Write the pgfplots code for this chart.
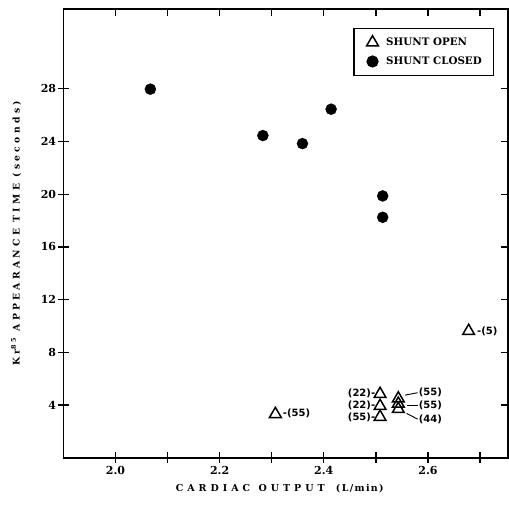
\documentclass[border=0pt]{standalone}
\usepackage{fontspec}
\setmainfont{DejaVu Serif}
\newfontfamily\spacedfont[LetterSpace=36]{DejaVu Serif}
\newfontfamily\xspacedfont[LetterSpace=42]{DejaVu Serif}
\newfontfamily\lsfont[LetterSpace=14]{DejaVu Serif}
\newfontfamily\labfont{DejaVu Sans}
\usepackage{pgfplots}
\pgfplotsset{compat=1.18}
\tikzset{lab/.style={font=\labfont\bfseries\fontsize{10}{12}\selectfont, inner sep=0pt}}
\pgfplotsset{mylegimg/.style={legend image code/.code={\path[draw=none,fill=none] (-8.5pt,-7.5pt) rectangle (10pt,7.5pt);\draw[##1] plot coordinates {(0pt,0pt)};}}}
\begin{document}
\begin{tikzpicture}
\begin{axis}[
  scale only axis, width=444pt, height=448.5pt,
  xmin=1.9, xmax=2.753, ymin=0, ymax=34.05,
  xtick={2.0,2.1,2.2,2.3,2.4,2.5,2.6,2.7},
  xticklabels={2.0,,2.2,,2.4,,2.6,},
  ytick={4,8,12,16,20,24,28},
  xtick pos=left, ytick pos=left,
  tick align=center, major tick length=11pt,
  every tick/.style={black, line width=1.3pt},
  axis line style={line width=1.6pt},
  /pgf/number format/assume math mode=true,
  ticklabel style={font=\bfseries\fontsize{11}{13}\selectfont},
  yticklabel style={inner xsep=1.5pt},
  xticklabel style={inner ysep=2.5pt},
  xlabel={\xspacedfont\bfseries CARDIAC\hspace{1pt} OUTPUT\hspace{4pt} {\lsfont\bfseries (L/min)}},
  xlabel style={at={(axis description cs:0.487,-0.068)}, anchor=center, font=\fontsize{9.5}{11}\selectfont},
  ylabel={\spacedfont\bfseries Kr\textsuperscript{85} APPEARANCE TIME (seconds)},
  ylabel style={at={(axis description cs:-0.1065,0.5)}, anchor=center, font=\fontsize{9.2}{11}\selectfont},
  legend style={at={(0.970,0.958)}, anchor=north east, draw=black, line width=1.2pt,
    font=\bfseries\fontsize{10.3}{12}\selectfont, inner xsep=10pt, inner ysep=6.5pt,
    row sep=4pt, column sep=1.7pt, nodes={inner sep=2pt}},
  legend cell align=left,
]
\addplot[only marks, mark=triangle, mark size=6.8pt, black, mark options={line width=1.5pt, fill=white}, mylegimg]
  coordinates {(2.307,3.32) (2.678,9.62) (2.508,4.84) (2.508,3.93) (2.508,3.1)
               (2.543,4.5) (2.543,4.1) (2.543,3.7)};
\addlegendentry{SHUNT OPEN}
\addplot[only marks, mark=*, mark size=5.5pt, black, mylegimg]
  coordinates {(2.067,27.97) (2.283,24.45) (2.359,23.84) (2.414,26.45) (2.513,19.87) (2.513,18.25)};
\addlegendentry{SHUNT CLOSED}
\node[lab, anchor=west] at (axis cs:2.321,3.37) {-(55)};
\node[lab, anchor=west] at (axis cs:2.694,9.62) {-(5)};
\node[lab, anchor=east] at (axis cs:2.499,4.89) {(22)-};
\node[lab, anchor=east] at (axis cs:2.499,4.0) {(22)-};
\node[lab, anchor=east] at (axis cs:2.499,3.04) {(55)-};
\node[lab, anchor=west] at (axis cs:2.582,4.94) {(55)};
\node[lab, anchor=west] at (axis cs:2.582,3.95) {(55)};
\node[lab, anchor=west] at (axis cs:2.582,2.94) {(44)};
\draw[line width=0.9pt] (axis cs:2.556,4.76) -- (axis cs:2.580,4.94);
\draw[line width=0.9pt] (axis cs:2.559,3.95) -- (axis cs:2.580,3.95);
\draw[line width=0.9pt] (axis cs:2.559,3.37) -- (axis cs:2.580,2.94);
\end{axis}
\begin{axis}[
  scale only axis, width=444pt, height=448.5pt,
  xmin=1.9, xmax=2.753, ymin=0, ymax=34.05,
  xtick={2.0,2.1,2.2,2.3,2.4,2.5,2.6,2.7},
  ytick={4,8,12,16,20,24,28},
  xticklabels={}, yticklabels={},
  xtick pos=right, ytick pos=right,
  tick align=inside, major tick length=7pt,
  every tick/.style={black, line width=1.3pt},
  axis line style={line width=1.6pt},
]
\end{axis}
\pgfresetboundingbox
\path ([shift={(-63.3pt,-50.3pt)}]current axis.south west) rectangle ([shift={(1.3pt,9pt)}]current axis.north east);
\end{tikzpicture}
\end{document}
